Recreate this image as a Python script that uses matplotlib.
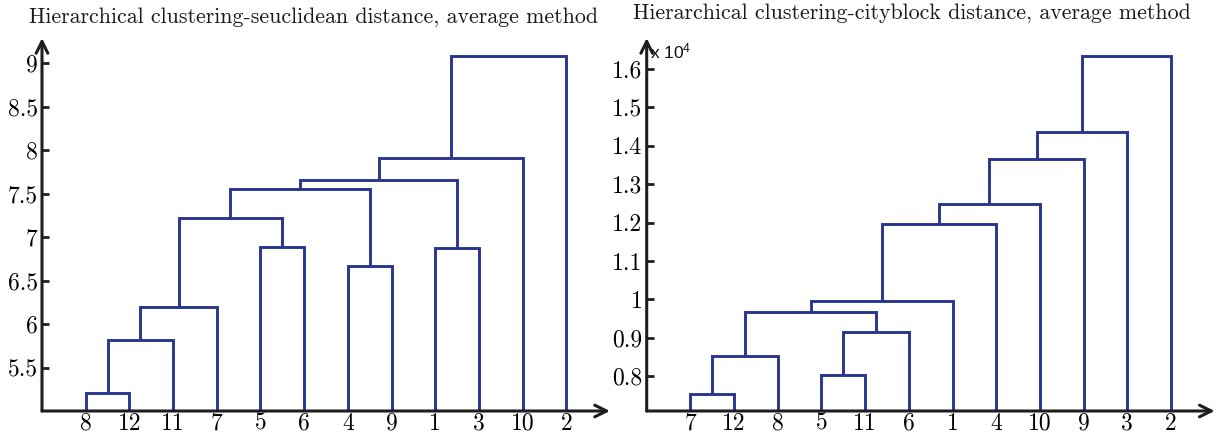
import matplotlib
matplotlib.use("Agg")
import matplotlib.pyplot as plt

plt.rcParams['mathtext.fontset'] = 'custom'
plt.rcParams['mathtext.rm'] = 'Liberation Sans'
plt.rcParams['mathtext.it'] = 'Liberation Sans'

# ---------------- data ----------------
# leaves are labelled 1..12 ; clusters formed by merges are numbered 13, 14, ...
# left panel: seuclidean distance, average linkage
left_merge_a = [8, 13, 14, 5, 4, 1, 15, 19, 20, 21, 22]
left_merge_b = [12, 11, 7, 6, 9, 3, 16, 17, 18, 10, 2]
left_heights = [5.21, 5.82, 6.20, 6.885, 6.67, 6.875, 7.225, 7.55, 7.66, 7.915, 9.08]
left_yticks = [5.5, 6, 6.5, 7, 7.5, 8, 8.5, 9]
left_yticklabels = ["5.5", "6", "6.5", "7", "7.5", "8", "8.5", "9"]

# right panel: cityblock distance, average linkage (values x 10^4)
right_merge_a = [7, 13, 5, 15, 14, 17, 18, 19, 20, 21, 22]
right_merge_b = [12, 8, 11, 6, 16, 1, 4, 10, 9, 3, 2]
right_heights = [0.755, 0.853, 0.8035, 0.915, 0.968, 0.997, 1.1965, 1.248, 1.365, 1.435, 1.632]
right_yticks = [0.8, 0.9, 1.0, 1.1, 1.2, 1.3, 1.4, 1.5, 1.6]
right_yticklabels = ["0.8", "0.9", "1", "1.1", "1.2", "1.3", "1.4", "1.5", "1.6"]

n_leaves = 12
LINE_COLOR = '#28368f'
AX_COLOR = '#1e1e1e'


def leaf_order(node, ma, mb):
    if node <= n_leaves:
        return [node]
    k = node - n_leaves - 1
    return leaf_order(ma[k], ma, mb) + leaf_order(mb[k], ma, mb)


def draw_dendrogram(ax, ma, mb, heights, ybase):
    root = n_leaves + len(ma)
    order = leaf_order(root, ma, mb)
    pos = {leaf: i + 1 for i, leaf in enumerate(order)}
    hgt = {leaf: ybase for leaf in order}
    for k in range(len(ma)):
        node = n_leaves + 1 + k
        a, b, h = ma[k], mb[k], heights[k]
        xa, xb = pos[a], pos[b]
        ax.plot([xa, xa, xb, xb], [hgt[a], h, h, hgt[b]],
                color=LINE_COLOR, lw=2.1, solid_joinstyle='miter',
                solid_capstyle='butt', zorder=3)
        pos[node] = (xa + xb) / 2.0
        hgt[node] = h
    return order


fig = plt.figure(figsize=(12.18, 4.37), dpi=100)

ax_h = (373) / 437.0
ax_b = (437 - 411) / 437.0
axL = fig.add_axes([42 / 1218.0, ax_b, 568 / 1218.0, ax_h])
axR = fig.add_axes([646.7 / 1218.0, ax_b, 568 / 1218.0, ax_h])

cm_font = 'cmr10'


def style_axes(ax, ylo, yhi, yticks, yticklabels, order):
    ax.set_xlim(0, 13)
    ax.set_ylim(ylo, yhi)
    for s in ax.spines.values():
        s.set_visible(False)
    ax.set_xticks(range(1, n_leaves + 1))
    ax.set_xticklabels([str(v) for v in order], fontfamily=cm_font, fontsize=17)
    ax.set_yticks(yticks)
    ax.set_yticklabels(yticklabels, fontfamily=cm_font, fontsize=17)
    ax.tick_params(axis='x', length=0, pad=1)
    ax.tick_params(axis='y', direction='in', length=5, width=2, color=AX_COLOR, pad=3)
    ax.patch.set_alpha(0)
    ap = dict(arrowstyle='->,head_length=0.85,head_width=0.42', lw=2.2, color=AX_COLOR,
              shrinkA=0, shrinkB=0)
    ax.annotate('', xy=(13, ylo), xytext=(0, ylo), arrowprops=ap, annotation_clip=False, zorder=5)
    ax.annotate('', xy=(0, yhi), xytext=(0, ylo), arrowprops=ap, annotation_clip=False, zorder=5)


orderL = draw_dendrogram(axL, left_merge_a, left_merge_b, left_heights, 5.0)
style_axes(axL, 5.0, 9.29, left_yticks, left_yticklabels, orderL)

orderR = draw_dendrogram(axR, right_merge_a, right_merge_b, right_heights, 0.710)
style_axes(axR, 0.710, 1.68, right_yticks, right_yticklabels, orderR)

fig.text(313.5 / 1218.0, (437 - 22.5) / 437.0,
         "Hierarchical clustering-seuclidean distance, average method",
         ha='center', va='baseline', fontfamily=cm_font, fontsize=15.8, color='#1a1a1a')
fig.text(912 / 1218.0, (437 - 18.3) / 437.0,
         "Hierarchical clustering-cityblock distance, average method",
         ha='center', va='baseline', fontfamily=cm_font, fontsize=15.8, color='#1a1a1a')

fig.text(650 / 1218.0, (437 - 58.3) / 437.0, r"x 10$^{4}$",
         ha='left', va='baseline', fontfamily='Liberation Sans', fontsize=12.5, color='#111111')

fig.savefig('out.png', dpi=100)
